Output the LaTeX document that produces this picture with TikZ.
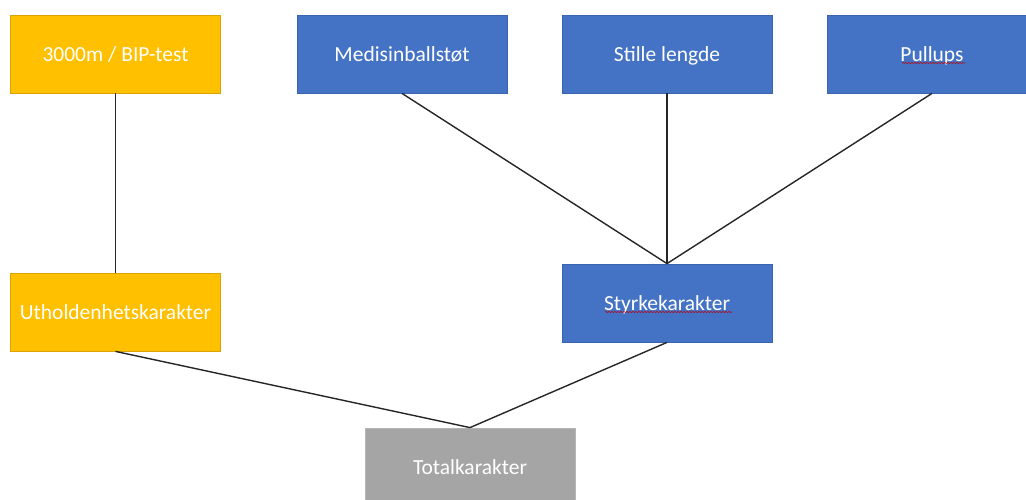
\documentclass[tikz,border=0pt]{standalone}
\usepackage{fontspec}
\setmainfont{Carlito}
\usetikzlibrary{decorations.pathmorphing}
\definecolor{oyellow}{HTML}{FFC000}
\definecolor{oyellowb}{HTML}{D9A400}
\definecolor{oblue}{HTML}{4472C4}
\definecolor{obluebd}{HTML}{3A64B0}
\definecolor{ogray}{HTML}{A5A5A5}
\definecolor{ograyb}{HTML}{B5B5B5}
\tikzset{
  box/.style={minimum width=210pt, minimum height=78pt, inner sep=0pt, text=white,
    font=\fontsize{21.5pt}{25pt}\selectfont, line width=0.8pt,
    text height=15pt, text depth=0pt},
  ybox/.style={box, fill=oyellow, draw=oyellowb},
  bbox/.style={box, fill=oblue, draw=obluebd},
  gbox/.style={box, fill=ogray, draw=ograyb},
  conn/.style={draw=black!85, line width=1.4pt},
  spell/.style={draw=red!75!black, line width=0.6pt, decorate,
    decoration={snake, amplitude=0.5pt, segment length=3pt}}
}
\begin{document}
\begin{tikzpicture}[x=1pt, y=-1pt]
\useasboundingbox (0,0) rectangle (1026,500);
\fill[white] (0,0) rectangle (1026,500);
\begin{scope}
\clip (0,0) rectangle (1026,500);
\node[ybox] (bip) at (115.5,54) {3000m / BIP-test};
\node[bbox] (med) at (402,54) {Medisinballstøt};
\node[bbox] (sti) at (667,54) {Stille lengde};
\node[bbox] (pul) at (932,54) {Pullups};
\node[ybox] (uth) at (115.5,312) {Utholdenhetskarakter};
\node[bbox] (sty) at (667,303) {Styrkekarakter};
\node[gbox] (tot) at (470,467) {Totalkarakter};
\draw[conn] (bip.south) -- (uth.north);
\draw[conn] (med.south) -- (sty.north);
\draw[conn] (sti.south) -- (sty.north);
\draw[conn] (pul.south) -- (sty.north);
\draw[conn] (uth.south) -- (tot.north);
\draw[conn] (sty.south) -- (tot.north);
\draw[spell] ([shift={(-30,9)}]pul.center) -- ([shift={(33,9)}]pul.center);
\draw[spell] ([shift={(-62,9)}]sty.center) -- ([shift={(65,9)}]sty.center);
\end{scope}
\end{tikzpicture}
\end{document}
